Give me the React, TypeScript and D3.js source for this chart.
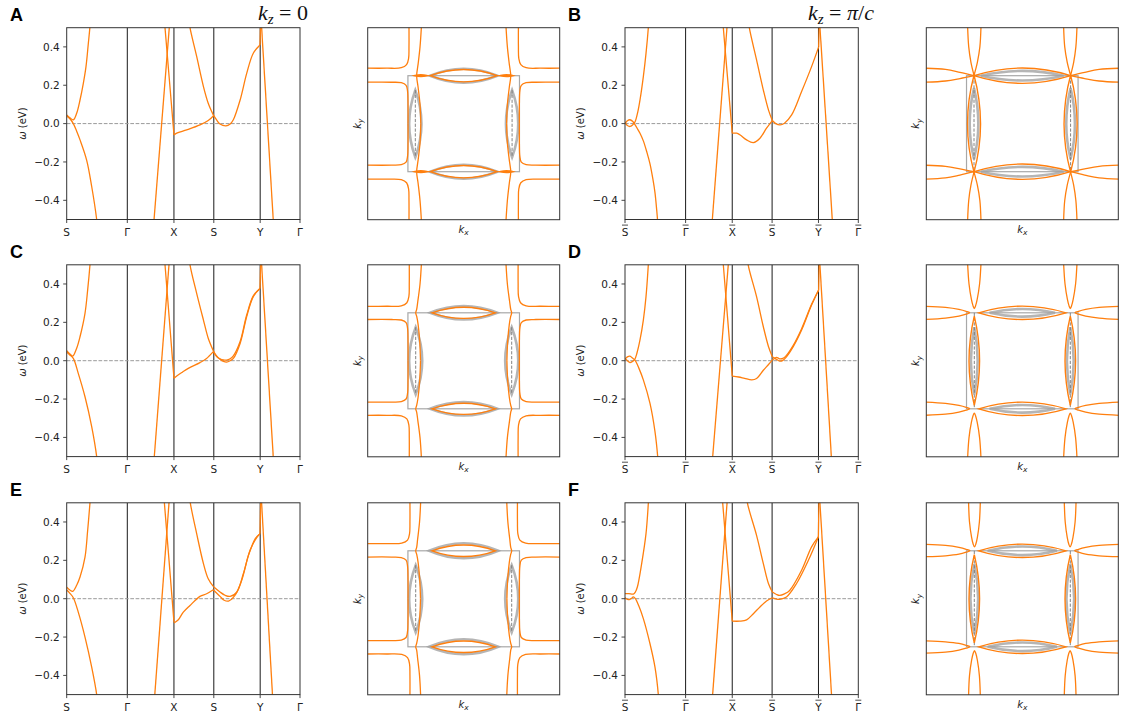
import React from 'react';
import * as d3 from 'd3';

type Pt = [number, number];
type Lens = [number, number, number, number, number];

const ORANGE = '#ff7f0e';
const LENS_GRAY = '#a3a3a3';

// ---------- band-structure axes ----------
const kPathTicks = [0, 1.52, 2.69, 3.69, 4.853, 5.852];
const kLabels = ['S', 'Γ', 'X', 'S', 'Y', 'Γ'];
const energyTicks = [-0.4, -0.2, 0, 0.2, 0.4];
const energyDomain: Pt = [-0.5, 0.5];

// ---------- panel A (kz = 0) ----------
const bandsA: Pt[][] = [
  [[0, 0.045], [0.08, 0.03], [0.166, 0.02], [0.25, 0.054], [0.334, 0.123], [0.417, 0.21], [0.484, 0.297], [0.543, 0.419], [0.59, 0.52], [0.6, 0.55]],
  [[0, 0.04], [0.08, 0.025], [0.166, 0.0], [0.25, -0.04], [0.334, -0.085], [0.5, -0.19], [0.627, -0.328], [0.752, -0.5], [0.77, -0.54]],
  [[2.172, -0.55], [2.592, 0.55]],
  [[2.446, 0.55], [2.466, 0.5], [2.691, -0.059]],
  [[2.691, -0.059], [2.76, -0.05], [3.01, -0.033], [3.343, -0.007], [3.55, 0.016], [3.677, 0.04]],
  [[3.065, 0.55], [3.093, 0.5], [3.26, 0.35], [3.43, 0.193], [3.55, 0.106], [3.677, 0.045]],
  [[3.677, 0.045], [3.76, 0.019], [3.845, -0.002], [3.995, -0.012], [4.1, -0.002], [4.18, 0.02], [4.35, 0.123], [4.515, 0.262], [4.68, 0.367], [4.848, 0.41]],
  [[4.875, 0.55], [5.195, -0.55]],
  [[4.848, 0.41], [4.86, 0.5], [4.865, 0.55]],
];

// ---------- panel B (kz = pi/c) ----------
const bandsB: Pt[][] = [
  [[0, 0.005], [0.06, -0.01], [0.125, -0.015], [0.19, -0.007], [0.25, 0.008], [0.32, 0.06], [0.376, 0.123], [0.46, 0.245], [0.527, 0.366], [0.585, 0.5], [0.6, 0.55]],
  [[0, 0.0], [0.06, 0.015], [0.125, 0.02], [0.19, 0.012], [0.25, -0.005], [0.32, -0.03], [0.376, -0.05], [0.46, -0.09], [0.55, -0.15], [0.627, -0.21], [0.7, -0.29], [0.752, -0.36], [0.795, -0.45], [0.815, -0.5], [0.825, -0.55]],
  [[2.172, -0.55], [2.576, 0.55]],
  [[2.446, 0.55], [2.466, 0.5], [2.69, -0.05]],
  [[2.69, -0.05], [2.8, -0.05], [2.88, -0.058], [3.05, -0.085], [3.22, -0.099], [3.385, -0.076], [3.55, -0.024], [3.695, 0.016]],
  [[3.09, 0.55], [3.118, 0.5], [3.3, 0.332], [3.47, 0.175], [3.6, 0.07], [3.695, 0.016]],
  [[3.695, 0.016], [3.78, 0.0], [3.89, -0.007], [4.0, 0.002], [4.18, 0.045], [4.43, 0.167], [4.68, 0.297], [4.858, 0.4]],
  [[4.875, 0.55], [5.215, -0.55]],
  [[4.858, 0.4], [4.87, 0.5], [4.875, 0.55]],
];

// ---------- panel C ----------
const bandsC: Pt[][] = [
  [[0, 0.052], [0.08, 0.035], [0.15, 0.024], [0.25, 0.065], [0.334, 0.125], [0.459, 0.247], [0.526, 0.369], [0.584, 0.5], [0.6, 0.55]],
  [[0, 0.045], [0.08, 0.03], [0.166, 0.012], [0.29, -0.066], [0.459, -0.188], [0.627, -0.344], [0.752, -0.5], [0.77, -0.54]],
  [[2.179, -0.55], [2.584, 0.55]],
  [[2.447, 0.55], [2.466, 0.5], [2.691, -0.092]],
  [[2.691, -0.092], [2.76, -0.08], [2.9, -0.06], [3.05, -0.04], [3.343, -0.01], [3.5, 0.01], [3.677, 0.047]],
  [[3.07, 0.55], [3.093, 0.5], [3.26, 0.351], [3.43, 0.212], [3.55, 0.117], [3.677, 0.052]],
  [[3.677, 0.052], [3.76, 0.025], [3.845, 0.007], [3.93, -0.003], [4.01, -0.007], [4.1, 0.0], [4.18, 0.012], [4.35, 0.09], [4.515, 0.23], [4.68, 0.334], [4.848, 0.377]],
  [[3.677, 0.047], [3.76, 0.022], [3.845, 0.01], [3.93, 0.004], [4.01, 0.003], [4.1, 0.01], [4.18, 0.025], [4.35, 0.1], [4.515, 0.238], [4.68, 0.338], [4.848, 0.377]],
  [[4.875, 0.55], [5.195, -0.55]],
  [[4.848, 0.377], [4.865, 0.5], [4.87, 0.55]],
];

// ---------- panel D ----------
const bandsD: Pt[][] = [
  [[0, 0.012], [0.06, 0.0], [0.125, -0.01], [0.18, -0.005], [0.24, 0.005], [0.3, 0.04], [0.376, 0.108], [0.46, 0.212], [0.527, 0.334], [0.585, 0.5], [0.6, 0.55]],
  [[0, 0.008], [0.06, 0.02], [0.125, 0.024], [0.18, 0.015], [0.25, 0.003], [0.35, -0.04], [0.46, -0.1], [0.627, -0.223], [0.752, -0.37], [0.82, -0.5], [0.835, -0.55]],
  [[2.18, -0.55], [2.61, 0.55]],
  [[2.446, 0.55], [2.466, 0.5], [2.69, -0.08]],
  [[2.69, -0.08], [2.85, -0.085], [3.0, -0.092], [3.18, -0.1], [3.3, -0.093], [3.47, -0.05], [3.6, -0.02], [3.695, 0.003]],
  [[3.07, 0.55], [3.09, 0.5], [3.3, 0.334], [3.47, 0.177], [3.6, 0.073], [3.695, 0.021]],
  [[3.695, 0.021], [3.8, 0.007], [3.88, -0.002], [3.96, 0.002], [4.05, 0.02], [4.22, 0.073], [4.43, 0.16], [4.68, 0.29], [4.858, 0.369]],
  [[3.695, 0.003], [3.8, 0.017], [3.88, 0.01], [3.96, 0.012], [4.05, 0.028], [4.22, 0.08], [4.43, 0.167], [4.68, 0.294], [4.858, 0.369]],
  [[4.875, 0.55], [5.19, -0.55]],
  [[4.858, 0.369], [4.87, 0.5], [4.875, 0.55]],
];

// ---------- panel E ----------
const bandsE: Pt[][] = [
  [[0, 0.06], [0.08, 0.045], [0.15, 0.038], [0.25, 0.07], [0.334, 0.113], [0.459, 0.217], [0.526, 0.357], [0.584, 0.5], [0.6, 0.55]],
  [[0, 0.045], [0.08, 0.028], [0.166, 0.005], [0.29, -0.07], [0.459, -0.2], [0.627, -0.357], [0.752, -0.5], [0.77, -0.54]],
  [[2.192, -0.55], [2.584, 0.55]],
  [[2.43, 0.55], [2.45, 0.5], [2.691, -0.122]],
  [[2.691, -0.127], [2.8, -0.11], [2.925, -0.07], [3.093, -0.035], [3.343, 0.012], [3.51, 0.026], [3.677, 0.047]],
  [[3.075, 0.55], [3.1, 0.5], [3.26, 0.339], [3.43, 0.183], [3.55, 0.104], [3.677, 0.064]],
  [[3.677, 0.064], [3.845, 0.035], [3.97, 0.018], [4.1, 0.012], [4.27, 0.035], [4.43, 0.13], [4.6, 0.252], [4.77, 0.32], [4.848, 0.339]],
  [[3.677, 0.047], [3.845, 0.012], [3.95, -0.008], [4.06, -0.012], [4.22, 0.017], [4.39, 0.096], [4.56, 0.226], [4.73, 0.313], [4.848, 0.339]],
  [[4.875, 0.55], [5.175, -0.55]],
  [[4.848, 0.339], [4.865, 0.5], [4.87, 0.55]],
];

// ---------- panel F ----------
const bandsF: Pt[][] = [
  [[0, 0.026], [0.1, 0.026], [0.209, 0.024], [0.26, 0.035], [0.31, 0.061], [0.418, 0.183], [0.527, 0.339], [0.585, 0.496], [0.6, 0.55]],
  [[0, 0.005], [0.08, -0.005], [0.15, 0.0], [0.209, 0.009], [0.26, 0.0], [0.35, -0.04], [0.46, -0.104], [0.627, -0.235], [0.752, -0.357], [0.836, -0.5], [0.85, -0.55]],
  [[2.18, -0.55], [2.578, 0.55]],
  [[2.43, 0.55], [2.45, 0.5], [2.69, -0.117]],
  [[2.69, -0.117], [2.88, -0.117], [3.05, -0.11], [3.22, -0.078], [3.385, -0.043], [3.55, -0.012], [3.695, 0.005]],
  [[3.05, 0.55], [3.07, 0.5], [3.3, 0.33], [3.47, 0.183], [3.6, 0.078], [3.695, 0.035]],
  [[3.695, 0.035], [3.8, 0.022], [3.88, 0.017], [4.0, 0.025], [4.13, 0.043], [4.43, 0.148], [4.68, 0.27], [4.85, 0.322]],
  [[3.695, 0.005], [3.8, -0.002], [3.88, -0.003], [4.05, 0.009], [4.3, 0.078], [4.6, 0.2], [4.85, 0.322]],
  [[4.875, 0.55], [5.195, -0.55]],
  [[4.85, 0.322], [4.865, 0.5], [4.87, 0.55]],
];

// ---------- Fermi surfaces (quarter contours, mirrored by symmetry) ----------
const brillouinZone: Pt = [0.581, 0.5];

interface FSSpec {
  curves: Pt[][];
  orangeLenses: Lens[];
  grayLenses: Lens[];
  thickOrange: Lens[];
  dashed: Pt[][];
}

const fsA_corner: Pt[] = [[-0.57, 1.02], [-0.57, 0.8], [-0.574, 0.68], [-0.595, 0.615], [-0.65, 0.583], [-0.8, 0.578], [-1.02, 0.578]];
const fsA_bracket: Pt[] = [[-1.02, 0.432], [-0.75, 0.432], [-0.65, 0.427], [-0.6, 0.4], [-0.585, 0.34], [-0.58, 0.2], [-0.58, 0]];
const fsA_wavy: Pt[] = [[-0.44, 1.02], [-0.455, 0.8], [-0.475, 0.62], [-0.49, 0.5], [-0.475, 0.38], [-0.455, 0.2], [-0.447, 0]];
const fsA: FSSpec = {
  curves: [fsA_corner, fsA_bracket, fsA_wavy],
  orangeLenses: [[-0.35, 0.5, 0.35, 0.5, 0.064]],
  grayLenses: [[-0.35, 0.5, 0.35, 0.5, 0.072], [-0.504, 0.35, -0.504, -0.35, 0.064]],
  thickOrange: [[-0.507, 0.5, -0.385, 0.5, 0.008]],
  dashed: [[[-0.504, 0.35], [-0.504, -0.35]]],
};

const fsC_corner: Pt[] = [[-0.567, 1.02], [-0.567, 0.8], [-0.571, 0.67], [-0.592, 0.605], [-0.65, 0.573], [-0.8, 0.568], [-1.02, 0.568]];
const fsC_bracket: Pt[] = [[-1.02, 0.43], [-0.75, 0.43], [-0.65, 0.425], [-0.6, 0.398], [-0.585, 0.34], [-0.58, 0.2], [-0.58, 0]];
const fsC_wavy: Pt[] = [[-0.44, 1.02], [-0.455, 0.8], [-0.478, 0.62], [-0.49, 0.535], [-0.5, 0.5], [-0.49, 0.465], [-0.475, 0.38], [-0.458, 0.2], [-0.45, 0]];
const fsC: FSSpec = {
  curves: [fsC_corner, fsC_bracket, fsC_wavy],
  orangeLenses: [[-0.33, 0.5, 0.33, 0.5, 0.058]],
  grayLenses: [[-0.35, 0.5, 0.35, 0.5, 0.07], [-0.5, 0.35, -0.5, -0.35, 0.068]],
  thickOrange: [],
  dashed: [[[-0.5, 0.35], [-0.5, -0.35]]],
};

const fsE_corner: Pt[] = [[-0.56, 1.02], [-0.56, 0.8], [-0.564, 0.68], [-0.585, 0.612], [-0.645, 0.58], [-0.8, 0.575], [-1.02, 0.575]];
const fsE_bracket: Pt[] = [[-1.02, 0.435], [-0.75, 0.435], [-0.65, 0.43], [-0.6, 0.403], [-0.585, 0.34], [-0.58, 0.2], [-0.58, 0]];
const fsE_wavy: Pt[] = [[-0.448, 1.02], [-0.46, 0.8], [-0.48, 0.62], [-0.49, 0.535], [-0.5, 0.5], [-0.49, 0.465], [-0.475, 0.38], [-0.458, 0.2], [-0.45, 0]];
const fsE: FSSpec = {
  curves: [fsE_corner, fsE_bracket, fsE_wavy],
  orangeLenses: [[-0.33, 0.5, 0.33, 0.5, 0.06]],
  grayLenses: [[-0.36, 0.5, 0.36, 0.5, 0.078], [-0.5, 0.35, -0.5, -0.35, 0.068]],
  thickOrange: [],
  dashed: [[[-0.5, 0.35], [-0.5, -0.35]]],
};

const fsB_vOuter: Pt[] = [[-0.57, 1.02], [-0.558, 0.8], [-0.535, 0.64], [-0.503, 0.505]];
const fsB_vInner: Pt[] = [[-0.43, 1.02], [-0.442, 0.8], [-0.468, 0.64], [-0.503, 0.505]];
const fsB_hOuter: Pt[] = [[-1.02, 0.578], [-0.8, 0.565], [-0.65, 0.535], [-0.503, 0.5]];
const fsB_hInner: Pt[] = [[-1.02, 0.432], [-0.8, 0.445], [-0.65, 0.47], [-0.503, 0.5]];
const fsB: FSSpec = {
  curves: [fsB_vOuter, fsB_vInner, fsB_hOuter, fsB_hInner],
  orangeLenses: [[-0.503, 0.505, -0.503, -0.505, 0.068], [-0.503, 0.5, 0.503, 0.5, 0.08]],
  grayLenses: [[-0.43, 0.5, 0.43, 0.5, 0.05], [-0.503, 0.37, -0.503, -0.37, 0.045]],
  thickOrange: [],
  dashed: [[[-0.503, 0.5], [-0.503, -0.5]]],
};

const fsD_vTongue: Pt[] = [[-0.57, 1.02], [-0.555, 0.8], [-0.53, 0.64], [-0.513, 0.572], [-0.5, 0.545], [-0.487, 0.572], [-0.47, 0.64], [-0.445, 0.8], [-0.43, 1.02]];
const fsD_hTongue: Pt[] = [[-1.02, 0.568], [-0.8, 0.556], [-0.66, 0.535], [-0.585, 0.515], [-0.548, 0.5], [-0.585, 0.485], [-0.66, 0.465], [-0.8, 0.444], [-1.02, 0.43]];
const fsD: FSSpec = {
  curves: [fsD_vTongue, fsD_hTongue],
  orangeLenses: [[-0.5, 0.465, -0.5, -0.465, 0.055], [-0.455, 0.5, 0.455, 0.5, 0.07]],
  grayLenses: [[-0.34, 0.5, 0.34, 0.5, 0.04], [-0.5, 0.35, -0.5, -0.35, 0.035]],
  thickOrange: [],
  dashed: [[[-0.5, 0.5], [-0.5, -0.5]]],
};

const fsF_vTongue: Pt[] = [[-0.56, 1.02], [-0.55, 0.8], [-0.528, 0.64], [-0.512, 0.57], [-0.498, 0.54], [-0.484, 0.57], [-0.468, 0.64], [-0.447, 0.8], [-0.437, 1.02]];
const fsF_hTongue: Pt[] = [[-1.02, 0.567], [-0.8, 0.556], [-0.66, 0.535], [-0.585, 0.515], [-0.545, 0.5], [-0.585, 0.485], [-0.66, 0.465], [-0.8, 0.448], [-1.02, 0.438]];
const fsF: FSSpec = {
  curves: [fsF_vTongue, fsF_hTongue],
  orangeLenses: [[-0.5, 0.46, -0.5, -0.46, 0.055], [-0.455, 0.5, 0.455, 0.5, 0.07]],
  grayLenses: [[-0.36, 0.5, 0.36, 0.5, 0.045], [-0.5, 0.36, -0.5, -0.36, 0.04]],
  thickOrange: [],
  dashed: [[[-0.5, 0.5], [-0.5, -0.5]]],
};

// ---------- layout ----------
const BAND_X = [66.7, 625];
const BAND_W = 233.3;
const FS_X = [367.7, 926.3];
const FS_SIZE = 192;
const ROW_Y = [27.7, 264.8, 502.8];
const ROW_H = 191.8;

const fmtTick = (v: number) => (v < 0 ? '\u2212' : '') + Math.abs(v).toFixed(1);

function BandPanel({ id, x, y, bands, bar }: { id: string; x: number; y: number; bands: Pt[][]; bar: boolean }) {
  const w = BAND_W, h = ROW_H;
  const xs = d3.scaleLinear().domain([0, kPathTicks[kPathTicks.length - 1]]).range([x, x + w]);
  const ys = d3.scaleLinear().domain(energyDomain).range([y + h, y]);
  const line = d3.line<Pt>().x(d => xs(d[0])).y(d => ys(d[1])).curve(d3.curveCatmullRom.alpha(0.5));
  return (
    <g>
      <defs>
        <clipPath id={id}><rect x={x} y={y} width={w} height={h} /></clipPath>
      </defs>
      <g clipPath={`url(#${id})`}>
        {kPathTicks.slice(1, -1).map((k, i) => (
          <line key={i} x1={xs(k)} x2={xs(k)} y1={y} y2={y + h} stroke="#1a1a1a" strokeWidth={1} />
        ))}
        <line x1={x} x2={x + w} y1={ys(0)} y2={ys(0)} stroke="#9a9a9a" strokeWidth={1} strokeDasharray="3.7,1.6" />
        {bands.map((b, i) => (
          <path key={i} d={line(b) || ''} fill="none" stroke={ORANGE} strokeWidth={1.3} />
        ))}
      </g>
      <rect x={x} y={y} width={w} height={h} fill="none" stroke="#333" strokeWidth={1} />
      {energyTicks.map((t, i) => (
        <g key={i}>
          <line x1={x - 3.5} x2={x} y1={ys(t)} y2={ys(t)} stroke="#333" strokeWidth={0.9} />
          <text x={x - 7} y={ys(t) + 3.8} textAnchor="end" fontSize={10.5} fill="#222">{fmtTick(t)}</text>
        </g>
      ))}
      {kPathTicks.map((k, i) => (
        <g key={i}>
          <line x1={xs(k)} x2={xs(k)} y1={y + h} y2={y + h + 3.5} stroke="#333" strokeWidth={0.9} />
          <text x={xs(k)} y={y + h + 16.5} textAnchor="middle" fontSize={10.5} fill="#222">{kLabels[i]}</text>
          {bar && <line x1={xs(k) - 3} x2={xs(k) + 3} y1={y + h + 5.6} y2={y + h + 5.6} stroke="#222" strokeWidth={0.8} />}
        </g>
      ))}
      <text transform={`translate(${x - 41},${y + h / 2}) rotate(-90)`} textAnchor="middle" fontSize={10} fill="#222">
        <tspan fontStyle="italic">ω</tspan> (eV)
      </text>
    </g>
  );
}

function FSPanel({ id, x, y, spec }: { id: string; x: number; y: number; spec: FSSpec }) {
  const s = FS_SIZE;
  const sx = d3.scaleLinear().domain([-1, 1]).range([x, x + s]);
  const sy = d3.scaleLinear().domain([-1, 1]).range([y + s, y]);
  const line = d3.line<Pt>().x(d => sx(d[0])).y(d => sy(d[1])).curve(d3.curveCatmullRom.alpha(0.5));
  const straight = d3.line<Pt>().x(d => sx(d[0])).y(d => sy(d[1]));
  const mirrors: Pt[] = [[1, 1], [-1, 1], [1, -1], [-1, -1]];

  const mirrorCurves = (pts: Pt[]): Pt[][] => {
    const seen = new Set<string>();
    const out: Pt[][] = [];
    mirrors.forEach(([mx, my]) => {
      const m = pts.map(([u, v]) => [u * mx, v * my] as Pt);
      const key = m.map(p => p[0].toFixed(3) + ',' + p[1].toFixed(3)).join(';');
      const rkey = m.slice().reverse().map(p => p[0].toFixed(3) + ',' + p[1].toFixed(3)).join(';');
      if (!seen.has(key) && !seen.has(rkey)) { seen.add(key); out.push(m); }
    });
    return out;
  };
  const mirrorLenses = (L: Lens): Lens[] => {
    const seen = new Set<string>();
    const out: Lens[] = [];
    mirrors.forEach(([mx, my]) => {
      const m: Lens = [L[0] * mx, L[1] * my, L[2] * mx, L[3] * my, L[4]];
      const pts = [[m[0], m[1]], [m[2], m[3]]].map(p => p[0].toFixed(3) + ',' + p[1].toFixed(3)).sort().join(';');
      if (!seen.has(pts)) { seen.add(pts); out.push(m); }
    });
    return out;
  };
  const lensPath = (L: Lens) => {
    const ax = sx(L[0]), ay = sy(L[1]), bx = sx(L[2]), by = sy(L[3]);
    const hPx = Math.abs(sx(L[4]) - sx(0));
    const mx = (ax + bx) / 2, my = (ay + by) / 2;
    const dx = bx - ax, dy = by - ay;
    const len = Math.hypot(dx, dy) || 1;
    const nx = -dy / len, ny = dx / len;
    const p = d3.path();
    p.moveTo(ax, ay);
    p.quadraticCurveTo(mx + nx * 2 * hPx, my + ny * 2 * hPx, bx, by);
    p.quadraticCurveTo(mx - nx * 2 * hPx, my - ny * 2 * hPx, ax, ay);
    p.closePath();
    return p.toString();
  };

  const bz = brillouinZone;
  return (
    <g>
      <defs>
        <clipPath id={id}><rect x={x} y={y} width={s} height={s} /></clipPath>
      </defs>
      <g clipPath={`url(#${id})`}>
        <rect x={sx(-bz[0])} y={sy(bz[1])} width={sx(bz[0]) - sx(-bz[0])} height={sy(-bz[1]) - sy(bz[1])}
          fill="none" stroke="#a8a8a8" strokeWidth={1.2} />
        {spec.grayLenses.flatMap(mirrorLenses).map((L, i) => (
          <path key={'g' + i} d={lensPath(L)} fill="none" stroke={LENS_GRAY} strokeWidth={2.6} opacity={0.8} />
        ))}
        {spec.dashed.flatMap(mirrorCurves).map((c, i) => (
          <path key={'d' + i} d={straight(c) || ''} fill="none" stroke="#777" strokeWidth={0.9} strokeDasharray="3.2,1.6" />
        ))}
        {spec.curves.flatMap(mirrorCurves).map((c, i) => (
          <path key={'c' + i} d={line(c) || ''} fill="none" stroke={ORANGE} strokeWidth={1.3} />
        ))}
        {spec.orangeLenses.flatMap(mirrorLenses).map((L, i) => (
          <path key={'o' + i} d={lensPath(L)} fill="none" stroke={ORANGE} strokeWidth={1.4} />
        ))}
        {spec.thickOrange.flatMap(mirrorLenses).map((L, i) => (
          <path key={'t' + i} d={lensPath(L)} fill="none" stroke={ORANGE} strokeWidth={1.8} />
        ))}
      </g>
      <rect x={x} y={y} width={s} height={s} fill="none" stroke="#333" strokeWidth={1} />
      <text x={x + s / 2} y={y + s + 13} textAnchor="middle" fontSize={10} fill="#222">
        <tspan fontStyle="italic">k</tspan><tspan fontSize={7.5} dy={2.5} fontStyle="italic">x</tspan>
      </text>
      <text transform={`translate(${x - 7},${y + s / 2}) rotate(-90)`} textAnchor="middle" fontSize={10} fill="#222">
        <tspan fontStyle="italic">k</tspan><tspan fontSize={7.5} dy={2.5} fontStyle="italic">y</tspan>
      </text>
    </g>
  );
}

const rows = [
  { letters: ['A', 'B'], bands: [bandsA, bandsB], fs: [fsA, fsB] },
  { letters: ['C', 'D'], bands: [bandsC, bandsD], fs: [fsC, fsD] },
  { letters: ['E', 'F'], bands: [bandsE, bandsF], fs: [fsE, fsF] },
];

export default function App() {
  return (
    <svg width={1122} height={719} style={{ position: 'absolute', left: 0, top: 0, background: '#fff' }}
      fontFamily="'DejaVu Sans', sans-serif">
      <rect x={0} y={0} width={1122} height={719} fill="#fff" />
      <text x={258} y={20} fontFamily="'Liberation Serif', serif" fontSize={22} fill="#111">
        <tspan fontStyle="italic">k</tspan><tspan fontSize={15} dy={3.5} fontStyle="italic">z</tspan><tspan dy={-3.5}> = 0</tspan>
      </text>
      <text x={808} y={20} fontFamily="'Liberation Serif', serif" fontSize={22} fill="#111">
        <tspan fontStyle="italic">k</tspan><tspan fontSize={15} dy={3.5} fontStyle="italic">z</tspan><tspan dy={-3.5}> = </tspan><tspan fontStyle="italic">π</tspan><tspan>/</tspan><tspan fontStyle="italic">c</tspan>
      </text>
      {rows.map((r, ri) => (
        <g key={ri}>
          {[0, 1].map(ci => (
            <g key={ci}>
              <text x={ci === 0 ? 10 : 568} y={ROW_Y[ri] - 6.5} fontFamily="'Liberation Sans', Arial, sans-serif"
                fontWeight="bold" fontSize={18} fill="#000">{r.letters[ci]}</text>
              <BandPanel id={`bc${ri}${ci}`} x={BAND_X[ci]} y={ROW_Y[ri]} bands={r.bands[ci]} bar={ci === 1} />
              <FSPanel id={`fc${ri}${ci}`} x={FS_X[ci]} y={ROW_Y[ri]} spec={r.fs[ci]} />
            </g>
          ))}
        </g>
      ))}
    </svg>
  );
}
